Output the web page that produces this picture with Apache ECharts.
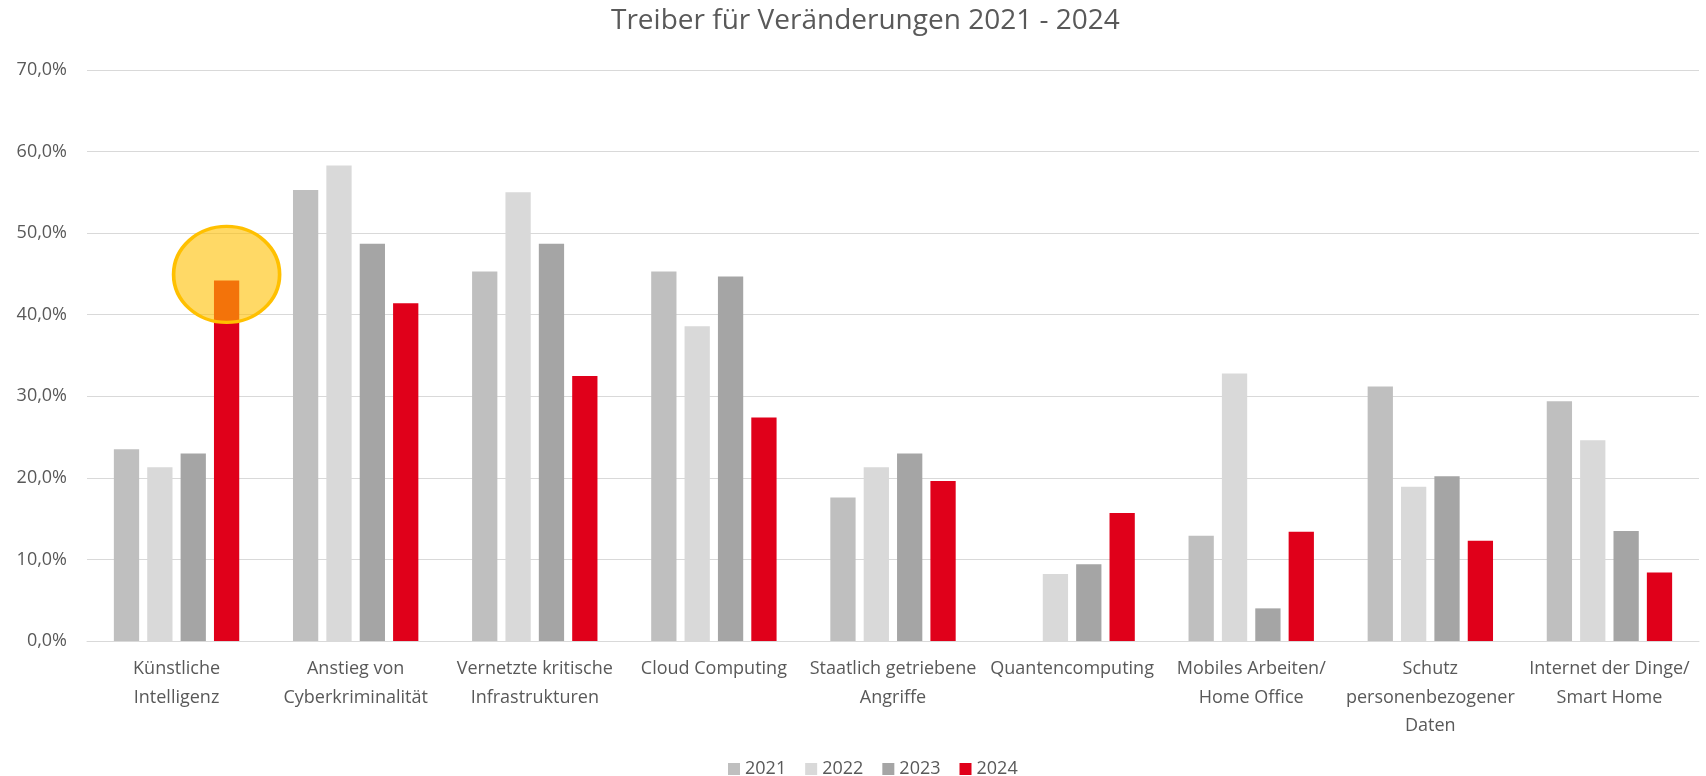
<!DOCTYPE html>
<html>
<head>
<meta charset="utf-8">
<title>Treiber für Veränderungen 2021 - 2024</title>
<script src="https://cdn.jsdelivr.net/npm/echarts@6.0.0/dist/echarts.min.js"></script>
<style>
    html, body { margin: 0; padding: 0; background: #fff; }
    #chart { width: 1706px; height: 776px; }
</style>
</head>
<body>
<div id="chart"></div>
<script>
// Kategorien (x-Achse)
var categories = [
    'Künstliche\nIntelligenz',
    'Anstieg von\nCyberkriminalität',
    'Vernetzte kritische\nInfrastrukturen',
    'Cloud Computing',
    'Staatlich getriebene\nAngriffe',
    'Quantencomputing',
    'Mobiles Arbeiten/\nHome Office',
    'Schutz\npersonenbezogener\nDaten',
    'Internet der Dinge/\nSmart Home'
];

// Werte in Prozent, pro Jahr
var years = ['2021', '2022', '2023', '2024'];
var values2021 = [23.5, 55.3, 45.3, 45.3, 17.6, null, 12.9, 31.2, 29.4];
var values2022 = [21.3, 58.3, 55.0, 38.6, 21.3, 8.2, 32.8, 18.9, 24.6];
var values2023 = [23.0, 48.7, 48.7, 44.7, 23.0, 9.4, 4.0, 20.2, 13.5];
var values2024 = [44.2, 41.4, 32.5, 27.4, 19.6, 15.7, 13.4, 12.3, 8.4];

// y-Achse
var yMin = 0;
var yMax = 70;
var yStep = 10;

window.onload = function () {
    var myChart = echarts.init(document.getElementById('chart'));
    var textColor = '#595959';
    var font = '"Open Sans", "Noto Sans", sans-serif';
    var colors = ['#BFBFBF', '#D9D9D9', '#A5A5A5', '#E0001A'];
    var allValues = [values2021, values2022, values2023, values2024];

    var series = [];
    for (var i = 0; i < years.length; i++) {
        var s = {
            name: years[i],
            type: 'bar',
            data: allValues[i],
            barGap: '32%',
            barCategoryGap: '30%',
            itemStyle: {
                color: colors[i]
            }
        };
        series.push(s);
    }
    // Markierung (gelber Kreis) beim hoechsten 2024-Wert
    series[3].markPoint = {
        symbol: 'circle',
        symbolSize: [106, 96],
        symbolOffset: [0, -6],
        silent: true,
        label: { show: false },
        itemStyle: {
            color: 'rgba(255,192,0,0.6)',
            borderColor: '#FFC000',
            borderWidth: 3.5
        },
        data: [{ type: 'max' }]
    };

    var option = {
        backgroundColor: '#fff',
        color: colors,
        textStyle: { fontFamily: font },
        title: {
            text: 'Treiber für Veränderungen 2021 - 2024',
            left: 606,
            top: 2,
            textStyle: {
                color: textColor,
                fontSize: 28,
                fontWeight: 'normal',
                fontFamily: font
            }
        },
        legend: {
            data: years,
            top: 755,
            left: 723,
            itemWidth: 12,
            itemHeight: 12,
            itemGap: 19,
            icon: 'rect',
            textStyle: {
                color: textColor,
                fontSize: 18,
                fontFamily: font
            }
        },
        grid: {
            left: 87,
            right: 7,
            top: 70,
            bottom: 135
        },
        xAxis: {
            type: 'category',
            data: categories,
            axisLine: { lineStyle: { color: '#D9D9D9', width: 1 } },
            axisTick: { show: false },
            axisLabel: {
                interval: 0,
                margin: 14,
                color: textColor,
                fontSize: 18,
                lineHeight: 28.5,
                fontFamily: font
            }
        },
        yAxis: {
            type: 'value',
            min: yMin,
            max: yMax,
            interval: yStep,
            axisLine: { show: false },
            axisTick: { show: false },
            splitLine: { lineStyle: { color: '#D9D9D9', width: 1 } },
            axisLabel: {
                margin: 20,
                color: textColor,
                fontSize: 18,
                fontFamily: font,
                formatter: function (v) {
                    return v.toFixed(1).replace('.', ',') + '%';
                }
            }
        },
        series: series
    };

    myChart.setOption(option);
};
</script>
</body>
</html>
